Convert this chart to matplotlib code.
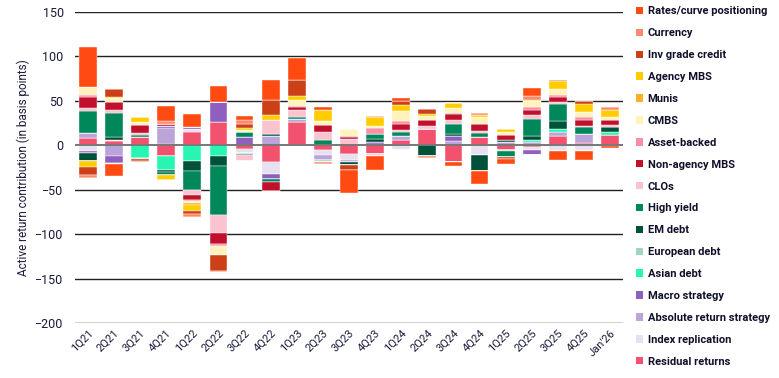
import numpy as np
import matplotlib
matplotlib.use("Agg")
import matplotlib.pyplot as plt
from matplotlib.patches import Patch

plt.rcParams['font.family'] = ['Roboto', 'DejaVu Sans']

# Dane
periods = ["1Q21", "2Q21", "3Q21", "4Q21", "1Q22", "2Q22", "3Q22", "4Q22", "1Q23", "2Q23", "3Q23",
           "4Q23", "1Q24", "2Q24", "3Q24", "4Q24", "1Q25", "2Q25", "3Q25", "4Q25", "Jan'26"]

categories = ["Rates/curve positioning", "Currency", "Inv grade credit", "Agency MBS", "Munis", "CMBS",
              "Asset-backed", "Non-agency MBS", "CLOs", "High yield", "EM debt", "European debt",
              "Asian debt", "Macro strategy", "Absolute return strategy", "Index replication",
              "Residual returns"]

colors = ["#FF4A12", "#FF8A6A", "#CC4018", "#FFCC00", "#F9B02A", "#FFF2BB", "#F78FA7", "#C0102B",
          "#FBC3CF", "#00875A", "#00513A", "#9ED6BF", "#27F5B2", "#8F5FBF", "#BBA4D8", "#E6E0F0",
          "#F2526E"]

rates = [44.6, -13.9, 0, 16.5, 15, 18.4, 3.8, 23.3, 24.8, 2.6, -26.5, -15.8, 3.8, 0, -4.1, -13.9, -5.3, 9.4, -9.4, -10.9, -2.6]
currency = [-3.7, 0, -1.9, 3, -3.8, -1.1, 4.5, 0, 0, -3, 0, 1.1, 0, -2.6, 0, 2.2, 0, 3.8, 0, 0, 2.6]
inv_grade = [-8.3, 9, -1.9, 0, -2.9, -18.8, 5.6, 16.1, 17.6, 0, -4.9, 0, 3.8, 5.6, 0, 0, -2.3, 0, 1.9, 3, 0]
agency_mbs = [-7.5, 1.5, 6, -4.9, -7.5, 0, 1.9, 5.6, 3.8, 13.1, 0, 9.4, 7.5, 1.9, 5.6, 2, 2.3, 1.9, 8.6, 9.4, 8.3]
munis = [0, 0, 0, 0, -1.9, 0, 0, 0, 0, 0, 0, 0, 0, 0, 0, 0, 0, 0, 0, 0, 0]
cmbs = [8.6, 4, 2.6, 0, -2.2, -9.4, 2.3, -1.1, 6.8, 4.5, 7.9, 2.6, 11.3, 5.3, 5.6, 8.3, 3.4, 6.4, 6.4, 5.3, 3]
asset_backed = [2.5, 0, 0, 0, -1.1, -3, 0, 0, 1.5, 0, 1.9, 6.8, 2.6, 0, 0.8, 0, 0, 3, 3, 3.8, 0]
non_agency = [12.4, 9.4, 9, 3, -6, -12, 0, -10.5, 3, 7.5, 1.9, 0, 6.8, 6, 7.5, 7.5, 5.6, 5.6, 5.6, 6, 6.4]
clos = [3.7, 3.7, 3, 0, -5.6, -20.6, -6.8, 15.8, 8.3, 8.6, 7.1, -2.3, 3, 3.8, 3.8, 2.6, 0.8, 4.9, 2.6, 1.9, 1.9]
high_yield = [24.4, 27, 2.3, -3.7, -21.4, -54.4, 5.3, -3.8, 1.9, 6.4, -0.8, 5.6, 4.5, 0, 11.6, 4.9, -6.4, 19.5, 18.8, 7.1, 0]
em_debt = [-8.6, 2.3, -1.1, -1.9, -11.3, -11.3, -1.5, 2.2, 0, 0, -2.6, 3.4, 0, -11.6, 2.6, -18, 2.3, 3.8, 8.3, 0, 5.6]
european = [0, 0, 0, 0, 0, 0, -1, 0, 0, -1.5, 0, 0, 0, 0, 0, 0, -1.9, 0, 0, 0, 0]
asian = [0, -1, -14.3, -16.5, -17.3, -12.4, 0, 0, 0, 0, 0, 0, 0, 0, 0, 0, 0, 3, 3.8, 0, 3]
macro = [-1.9, -8.3, 0, 1.9, 1.9, 22.9, 9.4, -5.6, 0, -1, 0, 1.9, 0, 0, 4.9, -0.8, 0, -4.9, 0, 0, 0]
abs_return = [5.6, -11.6, 0, 17.6, 0, 0, 0, 10.9, 4.1, -4.9, -3, 1.7, 4.5, 0, 5.3, 0, 3.4, 3.4, 4.9, 10.5, 0]
index_repl = [-6.8, 2, 0, 1.9, 3.7, 0, -4.9, -13.1, 0, -5.6, -6.8, 0, -4.9, 0, 0, -10.5, 0, -3.8, -6.8, -6, -1]
residual = [8.3, 4.5, 9, -11.6, 15, 25.9, -3.8, -18.8, 25.9, -5.6, -9.4, -9.4, 5.6, 18.4, -18.8, 9, -4.9, -1.9, 10.1, 2.6, 12]

series = [rates, currency, inv_grade, agency_mbs, munis, cmbs, asset_backed, non_agency, clos,
          high_yield, em_debt, european, asian, macro, abs_return, index_repl, residual]

dpi = 100
fig = plt.figure(figsize=(779 / dpi, 378 / dpi), dpi=dpi)
ax = fig.add_axes([0.096, 0.1455, 0.704, 0.8228])

x = np.arange(len(periods))
pos_bottom = np.zeros(len(periods))
neg_bottom = np.zeros(len(periods))

# stacking od ostatniej kategorii (Residual) do pierwszej (Rates)
for name, col, vals in reversed(list(zip(categories, colors, series))):
    v = np.array(vals, dtype=float)
    pos = np.where(v > 0, v, 0)
    neg = np.where(v < 0, v, 0)
    ax.bar(x, pos, 0.68, bottom=pos_bottom, color=col, edgecolor='white', linewidth=0.3, zorder=2)
    ax.bar(x, neg, 0.68, bottom=neg_bottom, color=col, edgecolor='white', linewidth=0.3, zorder=2)
    pos_bottom += pos
    neg_bottom += neg

ax.set_xlim(-0.5, len(periods) - 0.5)
ax.set_ylim(-200, 150)
ax.set_yticks(np.arange(-200, 151, 50))
for yv in np.arange(-200, 151, 50):
    if yv == 0:
        ax.axhline(yv, color='#777777', linewidth=1.4, zorder=3)
    else:
        ax.axhline(yv, color='#222222', linewidth=1.0, zorder=1)

for s in ax.spines.values():
    s.set_visible(False)
ax.tick_params(axis='both', length=0, colors='#1b1b3a', labelsize=9)
ax.tick_params(axis='y', pad=8)
ax.set_xticks(x)
ax.set_xticklabels(periods, rotation=45, ha='right', rotation_mode='anchor', fontsize=8)
ax.set_ylabel("Active return contribution (in basis points)", fontsize=8.5, color='#1b1b3a')

handles = [Patch(facecolor=c, edgecolor='none') for c in colors]
leg = ax.legend(handles, categories, loc='upper left', bbox_to_anchor=(1.005, 1.05), frameon=False,
                handlelength=0.65, handleheight=0.65, handletextpad=0.4, labelspacing=1.07,
                prop={'family': 'Roboto', 'weight': 'bold', 'size': 8})
for t in leg.get_texts():
    t.set_color('#10102a')

fig.savefig("out.png", dpi=dpi)
